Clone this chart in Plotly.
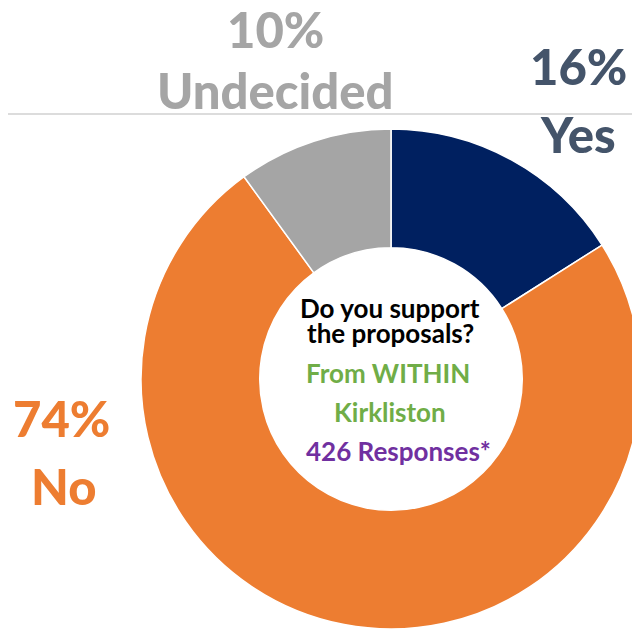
"""Doughnut chart: support for the proposals from within Kirkliston."""

import plotly.graph_objects as go

W, H = 640, 630
OFF = 8  # page body margin: figure starts 8px in from the page corner

labels = ["Yes", "No", "Undecided"]
values = [16, 74, 10]
slice_colors = ["#002060", "#ED7D31", "#A5A5A5"]
label_colors = ["#44546A", "#ED7D31", "#A5A5A5"]

center_lines = ["Do you support", "the proposals?", "From WITHIN", "Kirkliston", "426 Responses*"]
center_colors = ["#000000", "#000000", "#70AD47", "#70AD47", "#7030A0"]

FONT = "Lato, 'Open Sans', sans-serif"


# positions below are page pixels, converted to paper coords
def px_x(x):
    return (x - OFF) / W


def px_y(y):
    return (H - (y - OFF)) / H


fig = go.Figure()

fig.add_trace(
    go.Pie(
        labels=labels,
        values=values,
        hole=0.525,
        sort=False,
        direction="clockwise",
        rotation=0,
        marker=dict(colors=slice_colors, line=dict(color="#FFFFFF", width=1.5)),
        textinfo="none",
        hoverinfo="label+percent",
        showlegend=False,
        domain=dict(x=[px_x(141), px_x(641)], y=[px_y(629), px_y(129)]),
    )
)

# outside labels (percent on one line, category below)
label_pos = {
    "Yes": ((578, 66), (578, 134)),
    "No": ((61, 418), (63, 486)),
    "Undecided": ((275, 29), (275, 90)),
}
annotations = []
for lab, val, col in zip(labels, values, label_colors):
    (x1, y1), (x2, y2) = label_pos[lab]
    for txt, x, y in [(f"{val}%", x1, y1), (lab, x2, y2)]:
        annotations.append(
            dict(
                x=px_x(x),
                y=px_y(y),
                xref="paper",
                yref="paper",
                text=txt,
                showarrow=False,
                xanchor="center",
                yanchor="middle",
                font=dict(family=FONT, size=49, color=col, weight=900),
            )
        )

# centre text
center_y = [308, 333, 373, 412, 451]
center_x = [390, 390, 388, 390, 398]
for txt, col, x, y in zip(center_lines, center_colors, center_x, center_y):
    annotations.append(
        dict(
            x=px_x(x),
            y=px_y(y),
            xref="paper",
            yref="paper",
            text=txt,
            showarrow=False,
            xanchor="center",
            yanchor="middle",
            font=dict(family=FONT, size=26, color=col, weight="bold"),
        )
    )

fig.update_layout(
    width=W,
    height=H,
    margin=dict(l=0, r=0, t=0, b=0),
    paper_bgcolor="#FFFFFF",
    plot_bgcolor="#FFFFFF",
    annotations=annotations,
    shapes=[
        dict(
            type="line",
            xref="paper",
            yref="paper",
            x0=0,
            x1=1,
            y0=px_y(114),
            y1=px_y(114),
            line=dict(color="#D0D0D0", width=1.5),
        )
    ],
)

fig.write_html("out.html")
